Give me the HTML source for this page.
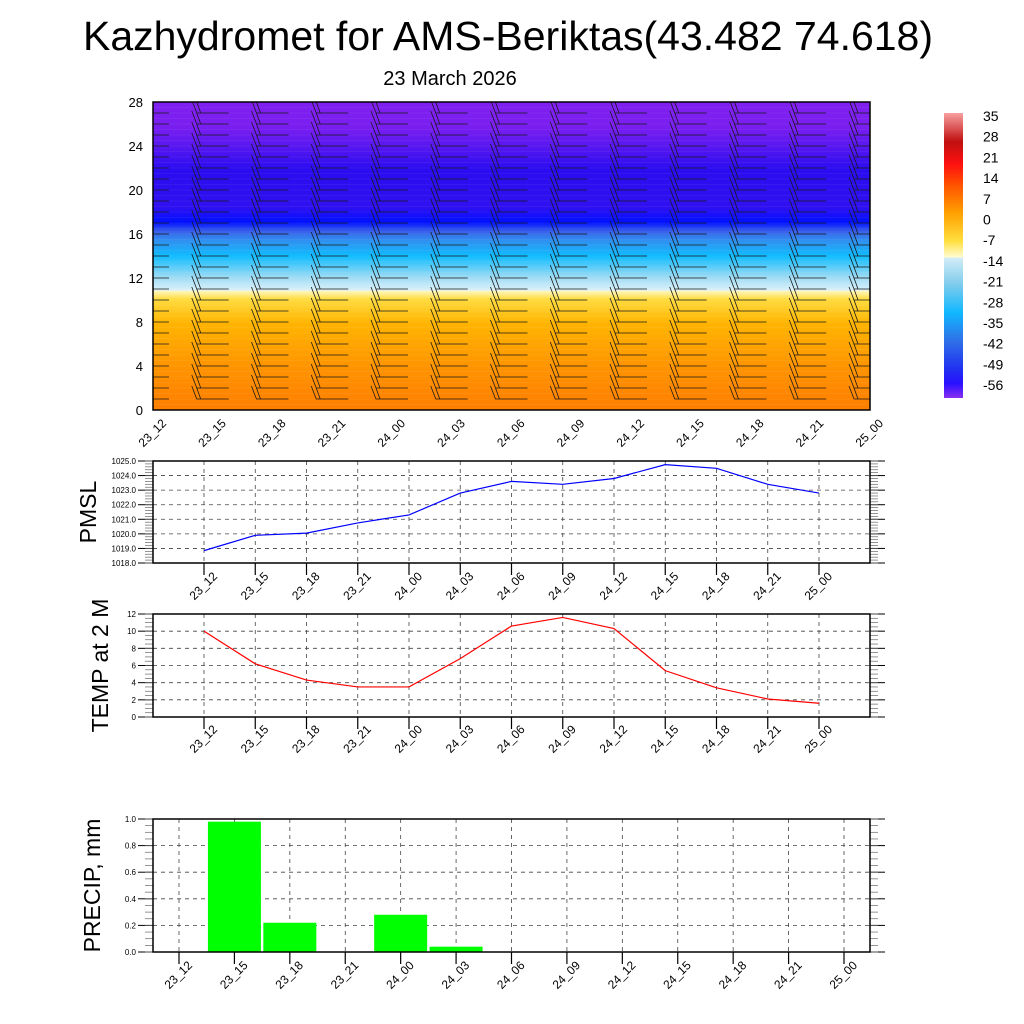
<!DOCTYPE html>
<html><head><meta charset="utf-8"><style>
html,body{margin:0;padding:0;background:#fff;}
svg{display:block;font-family:"Liberation Sans",Arial,sans-serif;}
</style></head><body>
<svg id="c" width="1024" height="1024" viewBox="0 0 1024 1024" xmlns="http://www.w3.org/2000/svg">
<defs>
<linearGradient id="tg" x1="0" y1="1" x2="0" y2="0">
<stop offset="0" stop-color="#ff7e00"/>
<stop offset="0.14" stop-color="#ff9400"/>
<stop offset="0.28" stop-color="#ffb400"/>
<stop offset="0.36" stop-color="#ffdc40"/>
<stop offset="0.385" stop-color="#fff6b8"/>
<stop offset="0.39" stop-color="#d8f0fa"/>
<stop offset="0.43" stop-color="#a0dcf4"/>
<stop offset="0.5" stop-color="#10bcff"/>
<stop offset="0.55" stop-color="#3090f0"/>
<stop offset="0.58" stop-color="#3a60ea"/>
<stop offset="0.61" stop-color="#0010ff"/>
<stop offset="0.66" stop-color="#3010f0"/>
<stop offset="0.78" stop-color="#2a0cf0"/>
<stop offset="0.86" stop-color="#5a18f0"/>
<stop offset="0.92" stop-color="#7a1ef0"/>
<stop offset="1" stop-color="#8020f0"/>
</linearGradient>
<linearGradient id="cb" x1="0" y1="1" x2="0" y2="0">
<stop offset="0" stop-color="#8a30f0"/>
<stop offset="0.05" stop-color="#2a10ff"/>
<stop offset="0.1" stop-color="#2030f0"/>
<stop offset="0.2" stop-color="#3070e8"/>
<stop offset="0.3" stop-color="#10b8ff"/>
<stop offset="0.4" stop-color="#80ccec"/>
<stop offset="0.49" stop-color="#d0ecf8"/>
<stop offset="0.495" stop-color="#fffbd0"/>
<stop offset="0.55" stop-color="#ffe040"/>
<stop offset="0.65" stop-color="#ffa000"/>
<stop offset="0.75" stop-color="#ff5000"/>
<stop offset="0.82" stop-color="#ff1010"/>
<stop offset="0.9" stop-color="#c01010"/>
<stop offset="1" stop-color="#f8a0a0"/>
</linearGradient>
</defs>
<text x="508" y="50" font-size="41" text-anchor="middle">Kazhydromet for AMS-Beriktas(43.482 74.618)</text>
<text x="450" y="85" font-size="20" text-anchor="middle">23 March 2026</text>
<g id="g"></g>
</svg>
<script>
const times=["23_12","23_15","23_18","23_21","24_00","24_03","24_06","24_09","24_12","24_15","24_18","24_21","25_00"];
const pmsl=[1018.85,1019.9,1020.05,1020.75,1021.3,1022.8,1023.6,1023.4,1023.8,1024.75,1024.5,1023.4,1022.8];
const temp2m=[10,6.2,4.3,3.5,3.5,6.8,10.6,11.6,10.3,5.4,3.4,2.1,1.6];
const precip=[0,0.98,0.22,0,0.28,0.04,0,0,0,0,0,0,0];
const heightTicks=[0,4,8,12,16,20,24,28];
const barbLevels=[1,2,3,4,5,6,7,8,9,10,11,12,13,14,15,16,17,18,19,20,21,22,23,24,25,26,27];
const cbLabels=[35,28,21,14,7,0,-7,-14,-21,-28,-35,-42,-49,-56];
const pmslTicks=[1018,1019,1020,1021,1022,1023,1024,1025];
const tempTicks=[0,2,4,6,8,10,12];
const precipTicks=[0,0.2,0.4,0.6,0.8,1.0];

const NS="http://www.w3.org/2000/svg";
const G=document.getElementById('g');
function el(t,a,p){const e=document.createElementNS(NS,t);for(const k in a)e.setAttribute(k,a[k]);(p||G).appendChild(e);return e;}

// ---------- Top panel ----------
const T={l:153,r:870,t:102,b:410};
const tx=i=>T.l+(T.r-T.l)*i/(times.length-1);
const ty=v=>T.b-(T.b-T.t)*v/28;
let bg=el('rect',{x:T.l,y:T.t,width:T.r-T.l,height:T.b-T.t,fill:'url(#tg)'});


for(let v=0.5;v<28;v+=0.5){el('line',{x1:T.l,x2:T.r,y1:ty(v),y2:ty(v),stroke:'#fff','stroke-opacity':0.1,'stroke-width':0.6});}
const clip=el('clipPath',{id:'tc'});el('rect',{x:T.l,y:T.t,width:T.r-T.l,height:T.b-T.t},clip);
const bgr=el('g',{'clip-path':'url(#tc)',stroke:'#1a1a1a','stroke-width':0.8,fill:'none'});


times.forEach((t,i)=>{barbLevels.forEach(lv=>{
  const x=tx(i),y=ty(lv);
  const x0=x-16,x1=x+16;
  let b=el('path',{d:`M${x1},${y}L${x0},${y}l-5,-13M${x0+4},${y}l-4,-11`},bgr);
  
  
});});
el('rect',{x:T.l,y:T.t,width:T.r-T.l,height:T.b-T.t,fill:'none',stroke:'#000','stroke-width':1.5});
heightTicks.forEach(v=>{let t=el('text',{x:143,y:ty(v)+5,'font-size':13,'text-anchor':'end'});t.textContent=v;
});
function xlabels(fx,y){times.forEach((s,i)=>{const x=fx(i);let t=el('text',{x:0,y:0,'font-size':12,'text-anchor':'end',transform:`translate(${x+14},${y}) rotate(-45)`});t.textContent=s;
});}
xlabels(tx,424);

// colorbar
let cbr=el('rect',{x:944,y:113,width:19,height:285,fill:'url(#cb)'});

cbLabels.forEach((v,i)=>{let t=el('text',{x:983,y:121+i*20.7,'font-size':14});t.textContent=v;
});

// ---------- Line / bar panels ----------
function panel(top,bot,ticks,lo,hi,fmt,minor,title,titleX,xOf,labelY,fs){
  const py=v=>bot-(bot-top)*(v-lo)/(hi-lo);
  el('rect',{x:153,y:top,width:717,height:bot-top,fill:'#fff'});
  times.forEach((s,i)=>{el('line',{x1:xOf(i),x2:xOf(i),y1:top,y2:bot,stroke:'#444','stroke-width':0.8,'stroke-dasharray':'4,4'});
    el('line',{x1:xOf(i),x2:xOf(i),y1:bot,y2:bot+12,stroke:'#000','stroke-width':1.2});});
  ticks.forEach(v=>{const y=py(v);if(v!==lo&&v!==hi)el('line',{x1:153,x2:870,y1:y,y2:y,stroke:'#444','stroke-width':0.8,'stroke-dasharray':'4,4'});
    el('line',{x1:138,x2:153,y1:y,y2:y,stroke:'#000'});el('line',{x1:870,x2:885,y1:y,y2:y,stroke:'#000'});
    let t=el('text',{x:136,y:y+3,'font-size':fs,'text-anchor':'end'});t.textContent=fmt(v);
    });
  for(let v=lo;v<=hi+1e-9;v+=minor){const y=py(v);el('line',{x1:145,x2:153,y1:y,y2:y,stroke:'#666','stroke-width':0.7});el('line',{x1:870,x2:878,y1:y,y2:y,stroke:'#666','stroke-width':0.7});}
  let tt=el('text',{x:0,y:0,'font-size':23,'text-anchor':'middle',transform:`translate(${titleX},${(top+bot)/2}) rotate(-90)`});tt.textContent=title;
  
  xlabels(xOf,labelY);
  return py;
}
function frame(top,bot){el('rect',{x:153,y:top,width:717,height:bot-top,fill:'none',stroke:'#000','stroke-width':1.5});}

const lx=i=>204+(819-204)*i/12;
// PMSL
let py=panel(461,563,pmslTicks,1018,1025,v=>v.toFixed(1),0.2,'PMSL',96,lx,577,8);
let pl=el('polyline',{points:pmsl.map((v,i)=>lx(i)+','+py(v)).join(' '),fill:'none',stroke:'#0000ff','stroke-width':1.2});

frame(461,563);
// TEMP
let py2=panel(614,717,tempTicks,0,12,v=>v,0.5,'TEMP at 2 M',108,lx,730,8);
let tl=el('polyline',{points:temp2m.map((v,i)=>lx(i)+','+py2(v)).join(' '),fill:'none',stroke:'#ff0000','stroke-width':1.2});

frame(614,717);
// PRECIP
const bx=i=>179+(844-179)*i/12;
let py3=panel(819,952,precipTicks,0,1,v=>v.toFixed(1),0.05,'PRECIP, mm',100,bx,966,8);
precip.forEach((v,i)=>{if(v<=0)return;const y=py3(v);let r=el('rect',{x:bx(i)-26.5,y:y,width:53,height:952-y,fill:'#00ff00'});
});
frame(819,952);
</script>
</body></html>
